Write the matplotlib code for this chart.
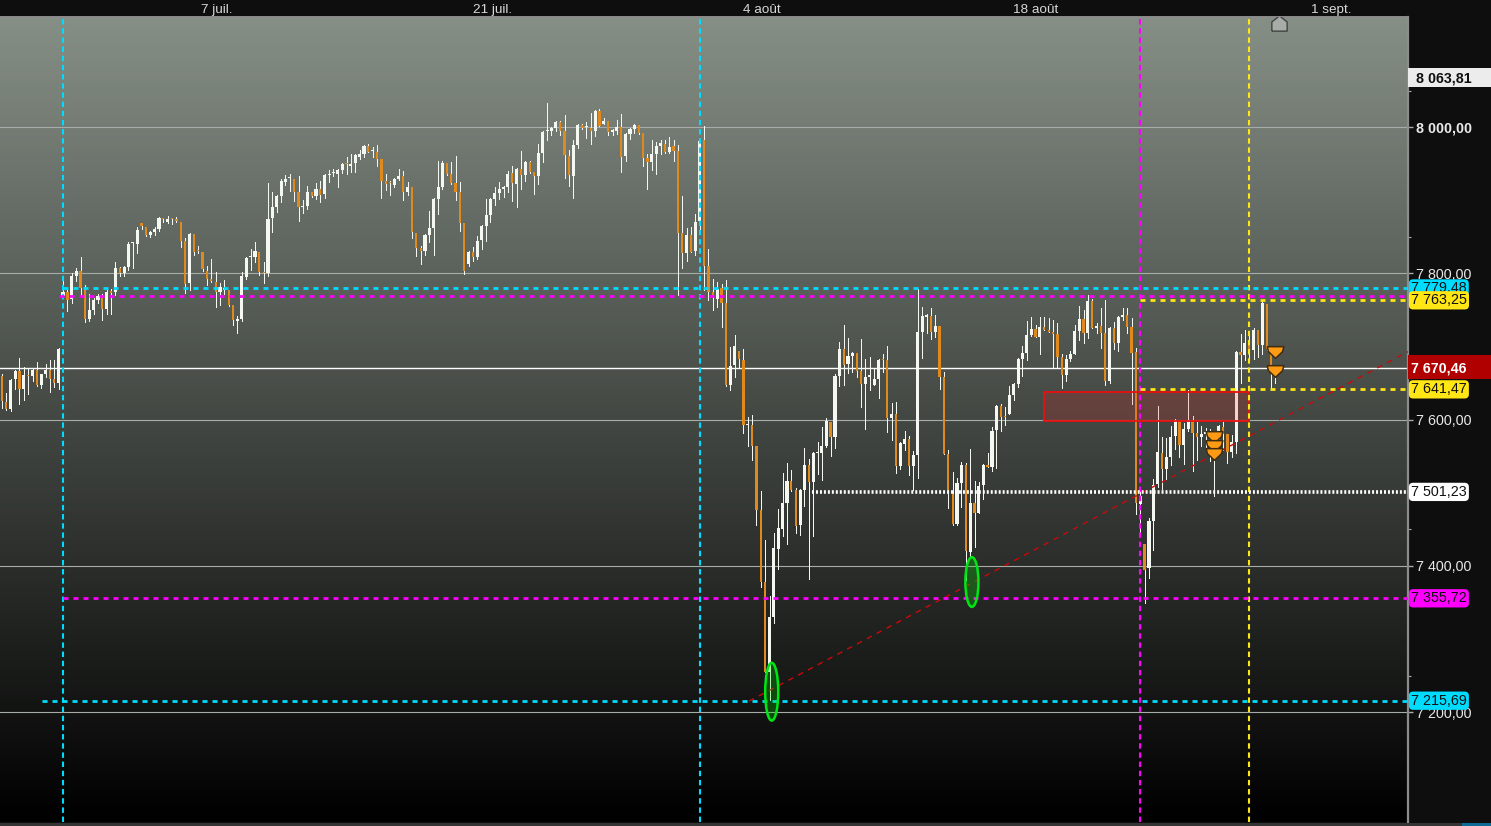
import numpy as np
import matplotlib
matplotlib.use('Agg')
import matplotlib.pyplot as plt
from matplotlib.colors import LinearSegmentedColormap
from matplotlib.patches import Rectangle, Ellipse

##################################################################
# candles, prices

opens = [
    7660,7624,7615,7655,7667,7642,7661,7660,7668,7647,7662,7668,7656,7650,7769,7775,7765,7797,7803,7779,
    7738,7750,7764,7766,7751,7776,7774,7807,7800,7809,7841,7840,7869,7864,7853,7857,7861,7875,7871,7876,
    7874,7871,7844,7787,7854,7832,7830,7804,7792,7788,7775,7778,7778,7757,7735,7738,7795,7822,7823,7830,
    7802,7800,7876,7891,7906,7925,7930,7929,7912,7891,7892,7912,7906,7916,7909,7934,7937,7936,7942,7950,
    7947,7951,7959,7963,7974,7967,7966,7957,7927,7924,7921,7929,7933,7911,7918,7855,7835,7831,7853,7862,
    7902,7918,7951,7936,7924,7911,7869,7813,7829,7823,7846,7865,7880,7902,7910,7916,7918,7937,7922,7943,
    7935,7953,7939,7933,7965,7995,7995,7999,8007,7995,7961,7933,7976,8003,8000,7999,7995,8022,8004,8009,
    7994,7995,8000,7961,7991,7998,8003,7992,7958,7953,7963,7974,7977,7966,7974,7968,7855,7828,7853,7831,
    7872,7983,7810,7775,7765,7780,7759,7647,7675,7694,7682,7593,7593,7564,7476,7378,7255,7330,7423,7450,
    7486,7516,7504,7456,7504,7538,7515,7554,7554,7564,7597,7576,7660,7697,7676,7687,7691,7667,7649,7658,
    7647,7656,7683,7682,7602,7608,7537,7567,7573,7537,7552,7720,7741,7742,7720,7728,7658,7553,7498,7457,
    7513,7538,7419,7486,7472,7511,7538,7535,7586,7619,7604,7608,7634,7649,7683,7691,7716,7724,7713,7727,
    7723,7720,7717,7686,7661,7683,7690,7721,7738,7718,7762,7725,7728,7718,7653,7725,7705,7740,7743,7727,
    7693,7485,7430,7397,7461,7512,7554,7532,7549,7578,7599,7565,7587,7598,7582,7576,7581,7579,7558,7569,
    7590,7580,7556,7569,7693,7688,7705,7695,7723,7702,7758,7690,7663,
]
highs = [
    7663,7637,7655,7668,7684,7672,7669,7670,7679,7663,7676,7682,7682,7698,7796,7777,7800,7807,7822,7784,
    7772,7766,7772,7772,7779,7779,7815,7809,7810,7843,7841,7863,7869,7864,7858,7863,7877,7875,7879,7876,
    7877,7871,7848,7855,7854,7838,7830,7810,7820,7802,7787,7791,7778,7757,7742,7802,7823,7833,7843,7830,
    7816,7923,7911,7907,7929,7935,7936,7929,7933,7901,7919,7912,7924,7926,7936,7942,7943,7943,7951,7959,
    7963,7963,7969,7976,7977,7973,7976,7957,7936,7927,7930,7943,7940,7925,7918,7855,7838,7854,7885,7903,
    7954,7954,7951,7952,7961,7925,7869,7831,7836,7851,7866,7902,7903,7918,7925,7920,7940,7947,7944,7968,
    7954,7954,7939,7977,7995,8033,8000,8009,8009,8017,7969,7983,8004,8004,8007,8020,8024,8025,8013,8009,
    7998,8010,8018,7992,7999,8004,8003,7992,7963,7983,7980,7983,7983,7987,7983,7976,7906,7862,7864,7881,
    7983,8002,7833,7792,7788,7786,7791,7699,7716,7694,7697,7604,7606,7564,7502,7435,7359,7445,7478,7527,
    7541,7531,7506,7505,7561,7546,7556,7569,7590,7602,7597,7662,7706,7729,7712,7693,7691,7710,7683,7686,
    7669,7683,7690,7701,7623,7624,7569,7584,7578,7557,7779,7754,7744,7753,7743,7728,7665,7558,7528,7520,
    7542,7541,7560,7516,7515,7539,7554,7590,7620,7621,7617,7646,7650,7684,7701,7735,7740,7729,7740,7740,
    7739,7736,7732,7690,7688,7694,7729,7755,7750,7770,7765,7732,7753,7764,7727,7734,7742,7753,7753,7739,
    7698,7504,7430,7465,7519,7619,7576,7575,7591,7601,7599,7595,7641,7605,7597,7591,7589,7587,7579,7593,
    7597,7580,7579,7694,7717,7723,7716,7725,7723,7764,7758,7699,7675,
]
lows = [
    7616,7613,7612,7642,7622,7627,7635,7653,7646,7644,7659,7638,7645,7642,7766,7748,7759,7790,7771,7734,
    7735,7745,7759,7736,7744,7745,7770,7797,7797,7805,7808,7828,7861,7851,7850,7852,7858,7870,7869,7867,
    7870,7836,7773,7777,7825,7828,7803,7784,7788,7754,7757,7772,7755,7729,7718,7735,7793,7805,7816,7798,
    7787,7797,7857,7884,7898,7921,7913,7899,7872,7883,7888,7905,7902,7898,7903,7925,7933,7918,7937,7936,
    7939,7939,7957,7959,7966,7959,7947,7903,7914,7907,7918,7928,7901,7907,7849,7824,7813,7825,7843,7825,
    7881,7916,7935,7922,7901,7858,7799,7810,7817,7820,7833,7844,7870,7894,7902,7905,7911,7899,7891,7916,
    7927,7937,7909,7922,7953,7983,7989,7995,7989,7931,7920,7903,7972,7998,7985,7977,7988,8002,8004,7989,
    7989,7991,7939,7954,7984,7992,7991,7947,7916,7942,7936,7963,7965,7965,7954,7771,7807,7817,7829,7825,
    7859,7777,7764,7750,7754,7727,7646,7641,7658,7672,7582,7564,7545,7456,7371,7255,7216,7322,7396,7441,
    7430,7502,7445,7442,7482,7382,7441,7526,7517,7563,7550,7561,7646,7647,7664,7665,7658,7617,7587,7641,
    7647,7630,7665,7583,7572,7527,7532,7558,7524,7504,7520,7684,7718,7710,7713,7642,7553,7479,7456,7456,
    7480,7381,7413,7426,7472,7491,7535,7530,7534,7584,7593,7608,7627,7645,7660,7682,7714,7713,7690,7723,
    7720,7672,7672,7643,7653,7680,7690,7709,7705,7712,7725,7718,7698,7647,7650,7697,7694,7736,7718,7621,
    7471,7442,7349,7383,7422,7508,7505,7519,7538,7560,7549,7539,7584,7530,7545,7564,7560,7543,7496,7558,
    7558,7541,7549,7554,7650,7682,7682,7683,7686,7690,7695,7642,7650,
]
closes = [
    7625,7615,7654,7667,7642,7661,7660,7668,7647,7662,7668,7656,7650,7697,7775,7764,7797,7803,7780,7738,
    7750,7764,7769,7751,7775,7773,7807,7800,7809,7840,7841,7859,7865,7853,7856,7861,7876,7874,7875,7875,
    7872,7845,7786,7854,7829,7831,7806,7792,7789,7775,7782,7779,7757,7736,7738,7797,7821,7822,7831,7802,
    7800,7875,7891,7906,7927,7929,7931,7912,7891,7892,7912,7906,7916,7907,7935,7935,7937,7942,7950,7949,
    7950,7962,7963,7974,7966,7968,7957,7927,7922,7923,7929,7933,7912,7918,7857,7835,7831,7853,7862,7902,
    7918,7951,7936,7924,7911,7869,7803,7829,7823,7844,7865,7880,7902,7910,7916,7918,7936,7924,7943,7935,
    7953,7939,7933,7965,7994,7996,7999,8007,7995,7962,7935,7976,8003,7999,8000,7995,8022,8002,8009,7994,
    7996,8000,7959,7991,7998,8003,7992,7958,7953,7963,7974,7979,7966,7973,7968,7855,7828,7853,7829,7870,
    7981,7810,7775,7771,7779,7759,7647,7673,7701,7683,7593,7594,7564,7476,7378,7255,7330,7424,7452,7486,
    7516,7504,7454,7504,7538,7515,7554,7555,7564,7598,7576,7660,7697,7675,7687,7691,7667,7649,7658,7661,
    7656,7682,7682,7602,7608,7537,7568,7573,7537,7552,7720,7742,7742,7720,7728,7658,7553,7504,7457,7513,
    7538,7420,7486,7472,7509,7538,7535,7584,7619,7604,7603,7634,7649,7683,7691,7716,7724,7713,7727,7723,
    7720,7717,7686,7661,7683,7690,7721,7738,7718,7762,7725,7728,7718,7653,7725,7705,7740,7743,7727,7691,
    7486,7495,7394,7461,7511,7556,7532,7549,7576,7599,7565,7587,7599,7582,7576,7580,7582,7558,7573,7591,
    7580,7556,7569,7693,7688,7705,7693,7723,7702,7760,7697,7670,7672,
]

# levels on the right hand side
level_cyan_high = 7779.48
level_magenta_high = 7769.6
level_yellow_high = 7763.25
last_price = 7670.46
level_yellow_low = 7641.47
level_white = 7501.23
level_magenta_low = 7355.72
level_cyan_low = 7215.69
top_price = 8063.81

# index of the candle where something starts
vline_cyan = [14, 160]
vline_magenta = [261]
vline_yellow = [286]
start_white = 185.8
start_low_cyan = 9.2

grid_prices = [8000, 7800, 7600, 7400, 7200]
grid_labels = ['8 000,00', '7 800,00', '7 600,00', '7 400,00', '7 200,00']
minor_prices = [8050, 7850, 7650, 7450, 7250]

date_pos = [49.3, 112.4, 174.3, 237.1, 304.7]
date_labels = ['7 juil.', '21 juil.', '4 août', '18 août', '1 sept.']

trend_idx = [171.3, 322.4]
trend_price = [7215, 7693]

arrow_idx = [278, 278, 278, 292, 292]
arrow_price = [7576, 7564, 7553, 7693, 7667]

##################################################################

plt.rcParams['font.family'] = ['Liberation Sans', 'DejaVu Sans']

CYAN = '#00dcff'
MAGENTA = '#ff00ff'
YELLOW = '#ffe614'
WHITE = '#f4f8f0'
ORANGE = '#e08a1e'
BG = '#0e0e0e'

opens = np.array(opens, dtype=float)
closes = np.array(closes, dtype=float)
highs = np.array(highs, dtype=float)
lows = np.array(lows, dtype=float)
idx = np.arange(len(opens))
up = closes >= opens

fig = plt.figure(figsize=(14.91, 8.26), dpi=100, facecolor=BG)
ax = fig.add_axes([0, (826-822)/826, 1408/1491, (822-17)/826])
ax.set_facecolor('black')

# background gradient of the price pane
cmap = LinearSegmentedColormap.from_list('pane', ['#000000', '#868f86'])
ax.imshow(np.linspace(1, 0, 256).reshape(-1, 1), cmap=cmap, vmin=0, vmax=1, aspect='auto',
          extent=(0, 1, 0, 1), transform=ax.transAxes, zorder=0)

ax.set_xlim(-0.459, 322.4)
ax.set_ylim(7049.8, 8150.7)

for p in grid_prices:
    ax.axhline(p, color='#a8aca8', lw=0.8, zorder=1)
ax.axhline(last_price, color='white', lw=1.0, zorder=1)

# candles
ax.vlines(idx, lows, highs, color=WHITE, lw=0.72, zorder=2, antialiased=False)
body_low = np.minimum(opens, closes)
body_h = np.maximum(np.abs(closes-opens), 1.5)
ax.bar(idx[up], body_h[up], bottom=body_low[up], width=0.72, color=WHITE, lw=0, zorder=3)
ax.bar(idx[~up], body_h[~up], bottom=body_low[~up], width=0.52, color=ORANGE, lw=0, zorder=3)

# support zone
ax.add_patch(Rectangle((239, 7598), 47, 40, fc=(1, 0.1, 0.1, 0.17), ec='#e81010', lw=1.3, zorder=4))

# trend line
ax.plot(trend_idx, trend_price, color='#c80a0a', lw=1.0, dashes=(4, 4), zorder=5)

# dashed levels
h_dash = (1.8, 1.8)
v_dash = (2.6, 1.8)
for x in vline_cyan:
    ax.axvline(x, color=CYAN, lw=1.5, dashes=v_dash, zorder=6)
for x in vline_magenta:
    ax.axvline(x, color=MAGENTA, lw=1.5, dashes=v_dash, zorder=6)
for x in vline_yellow:
    ax.axvline(x, color=YELLOW, lw=1.5, dashes=v_dash, zorder=6)

right = ax.get_xlim()[1]
ax.plot([14, right], [level_cyan_high]*2, color=CYAN, lw=2, dashes=h_dash, zorder=6)
ax.plot([13, right], [level_magenta_high]*2, color=MAGENTA, lw=2, dashes=h_dash, zorder=6)
ax.plot([261, right], [level_yellow_high]*2, color=YELLOW, lw=2, dashes=h_dash, zorder=6)
ax.plot([261, right], [level_yellow_low]*2, color=YELLOW, lw=2, dashes=h_dash, zorder=6)
ax.plot([14, right], [level_magenta_low]*2, color=MAGENTA, lw=2, dashes=h_dash, zorder=6)
ax.plot([start_low_cyan, right], [level_cyan_low]*2, color=CYAN, lw=2, dashes=h_dash, zorder=6)
ax.plot([start_white, right], [level_white]*2, color='white', lw=2.6, dashes=(0.55, 0.55), zorder=6)

# green ellipses at the two lows
for cx, cy, h in [(176.5, 7228, 79), (222.4, 7378, 68)]:
    ax.add_patch(Ellipse((cx, cy), 3.0, h, fc=(0, 0.9, 0, 0.25), ec='#00e614', lw=1.8, zorder=7))

# signal arrows
shield = [(-1, 0.7), (1, 0.7), (0.85, 0.1), (0, -0.7), (-0.85, 0.1), (-1, 0.7)]
ax.plot(arrow_idx, arrow_price, ls='none', marker=shield, ms=12, mfc='#ff9a14', mec='#3c2c10', mew=1.1, zorder=8)
house = [(-1, -1), (1, -1), (1, 0.2), (0, 1), (-1, 0.2), (-1, -1)]
ax.plot([292.9], [8142], ls='none', marker=house, ms=11, mfc='#a8aca8', mec='#404440', mew=1, zorder=8)

# axes
for s in ax.spines.values():
    s.set_visible(False)
ax.spines['right'].set_visible(True)
ax.spines['right'].set_color('#8c8c8c')
ax.spines['right'].set_linewidth(1.6)
ax.spines['top'].set_visible(True)
ax.spines['top'].set_color('#8c8c8c')
ax.spines['top'].set_linewidth(1.4)

ax.yaxis.tick_right()
ax.set_yticks(grid_prices)
ax.set_yticklabels(grid_labels)
ax.set_yticks(minor_prices, minor=True)
ax.tick_params(axis='y', which='major', length=3.6, width=1, color='#a8aca8', pad=2.2,
               labelcolor='#e8e8e8', labelsize=10.3)
ax.tick_params(axis='y', which='minor', length=2.4, width=0.8, color='#a8aca8')
ax.get_yticklabels()[0].set_fontweight('bold')

ax.xaxis.tick_top()
ax.set_xticks(date_pos)
ax.set_xticklabels(date_labels)
ax.tick_params(axis='x', length=0, pad=0.9, labelcolor='#d8d8d8', labelsize=9.7)

# value tags on the scale
ytrans = ax.get_yaxis_transform()
def tag(price, label, color):
    ax.text(1411/1408, price, label, transform=ytrans, ha='left', va='center', fontsize=10.3,
            color='#101010', clip_on=False, zorder=20,
            bbox=dict(boxstyle='round,pad=0.15,rounding_size=0.3', fc=color, ec='none'))

tag(level_cyan_high, '7 779,48', CYAN)
tag(level_yellow_high, '7 763,25', YELLOW)
tag(level_yellow_low, '7 641,47', YELLOW)
tag(level_white, '7 501,23', 'white')
tag(level_magenta_low, '7 355,72', MAGENTA)
tag(level_cyan_low, '7 215,69', CYAN)

# top and last price on full width boxes
ax.add_patch(Rectangle((1, top_price+4.2-13.5), 83/1408, 27, transform=ytrans, fc='#ececec', ec='none', clip_on=False, zorder=18))
ax.text(1416/1408, top_price+2.5, '8 063,81', transform=ytrans, ha='left', va='center', fontsize=10.3,
        fontweight='bold', color='#101010', clip_on=False, zorder=20)
ax.add_patch(Rectangle((1, last_price+2-16.5), 83/1408, 33, transform=ytrans, fc='#b00000', ec='none', clip_on=False, zorder=18))
ax.text(1411/1408, last_price, '7 670,46', transform=ytrans, ha='left', va='center', fontsize=10.3,
        fontweight='bold', color='white', clip_on=False, zorder=20)

# status strip along the bottom
fig.patches.append(Rectangle((0, 0), 1, 3/826, transform=fig.transFigure, fc='#343434', ec='none'))
fig.patches.append(Rectangle((1462/1491, 0), 29/1491, 3/826, transform=fig.transFigure, fc='#0d6a95', ec='none'))

plt.savefig('out.png', facecolor=BG)
